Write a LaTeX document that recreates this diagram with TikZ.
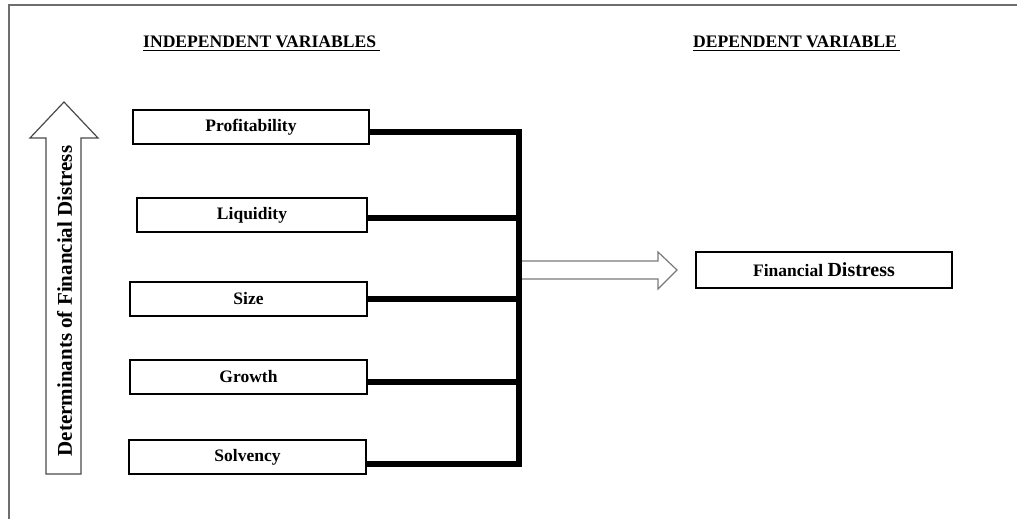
\documentclass[tikz,border=0pt]{standalone}
\usepackage{fontspec}
\setmainfont{Liberation Serif}
\usetikzlibrary{calc}
\definecolor{framegray}{HTML}{6E6E6E}
\definecolor{arrowgray}{HTML}{7A7A7A}
\definecolor{darkarrow}{HTML}{4A4A4A}
\tikzset{
  varbox/.style={draw=black, line width=1.1pt, fill=white, minimum height=34pt, inner sep=0pt,
    font=\fontsize{17.5}{20}\selectfont\bfseries},
  header/.style={anchor=base west, inner sep=0pt, font=\fontsize{17.6}{20}\selectfont\bfseries},
  busline/.style={line width=6pt, line join=miter, black},
  uline/.style={line width=1.6pt, black},
  blockarrow/.style={draw=arrowgray, line width=1.2pt, fill=white, line join=miter},
  sidearrow/.style={draw=darkarrow, line width=1.2pt, fill=white, line join=miter},
}
\begin{document}
\begin{tikzpicture}[x=1pt, y=-1pt]
\useasboundingbox (0,0) rectangle (1017,519);
% frame
\draw[framegray, line width=1.5pt] (9,519) -- (9,5) -- (1017,5);

% headers
\node[header] (hind) at (143,48) {INDEPENDENT VARIABLES};
\draw[uline] ([yshift=-2.5pt]hind.base west) -- ++(237,0);
\node[header] (hdep) at (693,48) {DEPENDENT VARIABLE};
\draw[uline] ([yshift=-2.5pt]hdep.base west) -- ++(207,0);

% side arrow
\draw[sidearrow] (46,474) -- (46,138) -- (30,138) -- (64,102) -- (98,138) -- (81,138) -- (81,474) -- cycle;
\node[rotate=90, inner sep=0pt, font=\fontsize{21}{24}\selectfont\bfseries] (det) at (64.5,301) {Determinants of Financial Distress};

% variable boxes
\node[varbox, minimum width=236pt] (prof) at (251,127) {Profitability};
\node[varbox, minimum width=230pt] (liq) at (252,215) {Liquidity};
\node[varbox, minimum width=237pt] (size) at (248.5,299) {Size};
\node[varbox, minimum width=237pt] (grow) at (248.5,377) {Growth};
\node[varbox, minimum width=237pt] (solv) at (247.5,457) {Solvency};

% bus
\coordinate (btop) at (519,132);
\coordinate (bbot) at (519,464);
\coordinate (pout) at ($(prof.east)+(0,5)$);
\coordinate (lout) at ($(liq.east)+(0,3)$);
\coordinate (sout) at (size.east);
\coordinate (gout) at ($(grow.east)+(0,5)$);
\coordinate (vout) at ($(solv.east)+(0,7)$);
\draw[busline] (pout) -- (btop) -- (bbot) -- (vout);
\draw[busline] (lout) -- (lout -| btop);
\draw[busline] (sout) -- (sout -| btop);
\draw[busline] (gout) -- (gout -| btop);

% dependent box
\node[varbox, minimum width=256pt, minimum height=36pt] (fd) at (824,270) {Financial {\fontsize{20}{24}\selectfont Distress}};

% block arrow from bus toward dependent variable
\draw[blockarrow] (522,261) -- (658,261) -- (658,252) -- (677,270) -- (658,289) -- (658,279) -- (522,279);
\end{tikzpicture}
\end{document}
